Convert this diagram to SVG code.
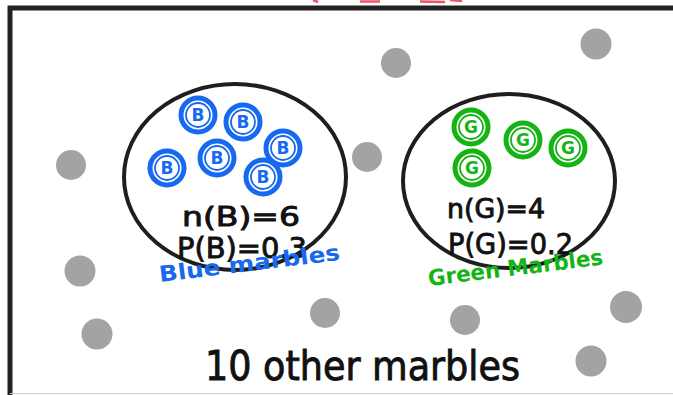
<svg xmlns="http://www.w3.org/2000/svg" width="673" height="395" viewBox="0 0 673 395">
<style>
.grey{fill:#a3a3a3}
.set{fill:none;stroke:#1e1e1e;stroke-width:4}
.bl{font-family:"DejaVu Sans",sans-serif;font-weight:bold;font-size:17px;text-anchor:middle}
.hand{font-family:"DejaVu Sans",sans-serif;fill:#111;stroke:#111;stroke-width:0.9}
.lab{font-family:"DejaVu Sans",sans-serif;font-weight:bold;font-size:22px}
</style>
<defs>
<g id="marble" fill="none" stroke="currentColor"><circle r="17" stroke-width="5"/><circle r="12" stroke-width="1.8"/></g>
</defs>
<rect x="0" y="0" width="673" height="395" fill="#fff"/>
<g id="title-fragment" stroke="#f0506a" stroke-width="2.5" fill="none">
<path d="M313 0 L318 2"/><path d="M360 1.5 L380 1.5"/><path d="M420 1.5 L445 2 M450 0 L462 1"/>
</g>
<g id="frame">
<path d="M10 395 L10 8 L673 8" fill="none" stroke="#222" stroke-width="5"/>
<line x1="10" y1="393.5" x2="673" y2="393.5" stroke="#cfcfcf" stroke-width="1"/>
</g>
<g id="other-marbles">
<circle class="grey" cx="396" cy="63" r="15"/>
<circle class="grey" cx="596" cy="44" r="15.5"/>
<circle class="grey" cx="71" cy="165" r="15"/>
<circle class="grey" cx="367" cy="157" r="15"/>
<circle class="grey" cx="80" cy="271" r="15.5"/>
<circle class="grey" cx="97" cy="334" r="15.5"/>
<circle class="grey" cx="325" cy="313" r="15"/>
<circle class="grey" cx="465" cy="320" r="15"/>
<circle class="grey" cx="626" cy="307" r="16"/>
<circle class="grey" cx="591" cy="361" r="15.5"/>
</g>
<g id="blue-set">
<ellipse class="set" cx="235" cy="177" rx="111" ry="93"/>
<g style="color:#1769f0">
<use href="#marble" x="198" y="115"/>
<use href="#marble" x="243" y="122"/>
<use href="#marble" x="283" y="148"/>
<use href="#marble" x="167" y="168"/>
<use href="#marble" x="217" y="158"/>
<use href="#marble" x="263" y="177"/>
</g>
<g class="bl" fill="#1769f0">
<text x="198" y="121">B</text><text x="243" y="128">B</text><text x="283" y="154">B</text>
<text x="167" y="174">B</text><text x="217" y="164">B</text><text x="263" y="183">B</text>
</g>
<text class="hand" x="182" y="226" font-size="26" textLength="118" lengthAdjust="spacingAndGlyphs">n(B)=6</text>
<text class="hand" x="177" y="258" font-size="29" textLength="130" lengthAdjust="spacingAndGlyphs">P(B)=0.3</text>
<text class="lab" fill="#1769f0" transform="translate(160,282) rotate(-7)" textLength="182" lengthAdjust="spacingAndGlyphs">Blue marbles</text>
</g>
<g id="green-set">
<ellipse class="set" cx="509" cy="181" rx="106" ry="87"/>
<g style="color:#14b414">
<use href="#marble" x="471" y="127"/>
<use href="#marble" x="523" y="140"/>
<use href="#marble" x="568" y="148"/>
<use href="#marble" x="472" y="168"/>
</g>
<g class="bl" fill="#14b414">
<text x="471" y="133">G</text><text x="523" y="146">G</text><text x="568" y="154">G</text><text x="472" y="174">G</text>
</g>
<text class="hand" x="447" y="218" font-size="26" textLength="98" lengthAdjust="spacingAndGlyphs">n(G)=4</text>
<text class="hand" x="448" y="254" font-size="28" textLength="125" lengthAdjust="spacingAndGlyphs">P(G)=0.2</text>
<text class="lab" fill="#14b414" transform="translate(429,286) rotate(-7)" textLength="176" lengthAdjust="spacingAndGlyphs">Green Marbles</text>
</g>
<text id="others-label" class="hand" x="205" y="380" font-size="40" textLength="315" lengthAdjust="spacingAndGlyphs">10 other marbles</text>
</svg>
